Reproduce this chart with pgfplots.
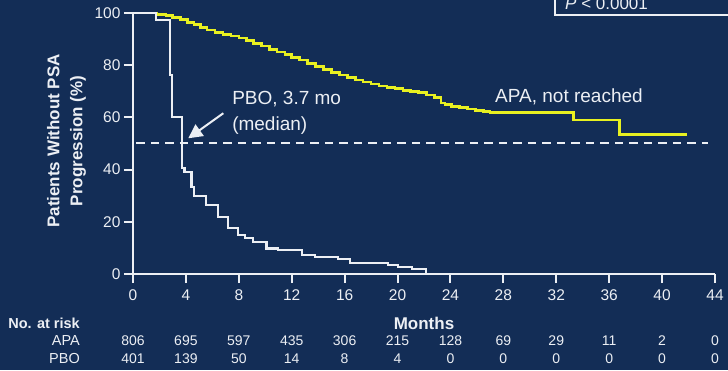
\documentclass[border=0pt]{standalone}
\usepackage{fontspec}
\setmainfont{Liberation Sans}
\usepackage{pgfplots}
\pgfplotsset{compat=1.18}
\usetikzlibrary{arrows.meta}

\definecolor{navy}{RGB}{19,45,86}
\definecolor{apa}{RGB}{232,240,32}
\definecolor{ink}{RGB}{236,239,244}

% Kaplan-Meier estimates: months, percent without PSA progression
\pgfplotstableread{
t    s
0    100
1.8  99.5
2.5  99.0
3.0  98.2
3.6  97.4
4.1  96.4
4.6  95.5
5.1  94.5
5.6  93.5
6.2  92.6
6.8  91.8
7.4  91.2
8.0  90.4
8.6  89.5
9.1  88.4
9.7  87.3
10.3 86.0
10.9 85.0
11.5 84.0
12.0 83.0
12.6 82.0
13.2 80.6
13.8 79.5
14.4 78.4
15.0 77.1
15.6 76.2
16.2 75.3
16.8 74.3
17.4 73.5
18.0 72.8
18.6 72.0
19.2 71.5
19.8 71.0
20.4 70.4
21.0 70.0
21.6 69.6
22.2 68.6
22.8 67.6
23.3 65.5
23.6 65.0
24.1 64.2
24.7 63.7
25.3 63.2
25.9 62.6
26.5 62.2
27.0 61.8
33.3 59.0
36.8 53.5
41.9 53.5
}\apatable

\pgfplotstableread{
t     s
0     100
1.75  97.3
2.8   76.2
2.92  60.3
3.68  40.6
3.9   39.2
4.43  33.4
4.64  29.9
5.52  26.4
6.45  21.7
7.21  17.5
7.96  14.9
8.47  13.7
9.1   12.4
10.1  9.8
10.98 9.2
12.75 7.3
13.76 6.6
15.52 5.6
16.4  4.3
19.3  3.4
20.05 2.6
21.07 1.9
22.15 0
}\pbotable

\begin{document}
\begin{tikzpicture}[x=1pt,y=1pt]
\fill[navy] (0,0) rectangle (728,370);
\begin{axis}[
  at={(133pt,96pt)}, anchor=south west,
  scale only axis, width=582pt, height=261pt,
  xmin=0, xmax=44, ymin=0, ymax=100,
  axis lines=left,
  axis line style={ink, line width=2pt, -},
  clip=false,
  xtick={0,4,...,44}, ytick={0,20,...,100},
  tick align=outside, major tick length=9pt,
  tick style={ink, line width=2pt},
  ticklabel style={font=\fontsize{15.5}{18}\selectfont, text=ink},
  xticklabel style={yshift=-3pt},
  /pgf/number format/assume math mode=true,
  ylabel={Patients Without PSA\\Progression (\%)},
  ylabel style={align=center, font=\bfseries\fontsize{17}{23}\selectfont,
    text=ink, at={(axis description cs:-0.1143,0.51)}, anchor=center},
]
\addplot[const plot, apa, line width=2.6pt] table[x=t, y=s] {\apatable};
\addplot[const plot, ink, line width=2.2pt] table[x=t, y=s] {\pbotable};
\addplot[ink, line width=2pt, dash pattern=on 8.5pt off 6pt] coordinates {(0.25,50) (43.5,50)};

\node[anchor=west, align=left, inner sep=0, text=ink,
  font=\fontsize{19}{26}\selectfont] at (axis cs:7.49,61.7) {PBO, 3.7 mo\\(median)};
\node[anchor=west, inner sep=0, text=ink,
  font=\fontsize{19}{23}\selectfont] at (axis cs:27.37,67.9) {APA, not reached};
\draw[ink, line width=2pt, -{Triangle[length=14pt, width=14pt]}]
  (axis cs:6.83,61.6) -- (axis cs:4.18,52.0);
\end{axis}

% p-value box
\draw[ink, line width=1.5pt] (555,400) -- (555,355) -- (760,355);
\node[anchor=base west, inner sep=0, text=ink, font=\fontsize{17}{20}\selectfont]
  at (565,360) {\textit{P} < 0.0001};

% number at risk
\node[anchor=east, inner sep=0, text=ink, font=\bfseries\fontsize{14.5}{17}\selectfont] at (80,47) {No. at risk};
\node[inner sep=0, text=ink, font=\bfseries\fontsize{17}{20}\selectfont] at (424,47) {Months};
\node[anchor=east, inner sep=0, text=ink, font=\fontsize{14.5}{17}\selectfont] at (80,29) {APA};
\node[anchor=east, inner sep=0, text=ink, font=\fontsize{14.5}{17}\selectfont] at (80,11) {PBO};
\foreach \t/\a/\p in {0/806/401, 4/695/139, 8/597/50, 12/435/14, 16/306/8, 20/215/4,
  24/128/0, 28/69/0, 32/29/0, 36/11/0, 40/2/0, 44/0/0} {
  \node[inner sep=0, text=ink, font=\fontsize{14}{17}\selectfont] at ({133+13.227*\t},29) {\a};
  \node[inner sep=0, text=ink, font=\fontsize{14}{17}\selectfont] at ({133+13.227*\t},11) {\p};
}

\pgfresetboundingbox
\useasboundingbox (0,0) rectangle (728,370);
\end{tikzpicture}
\end{document}
